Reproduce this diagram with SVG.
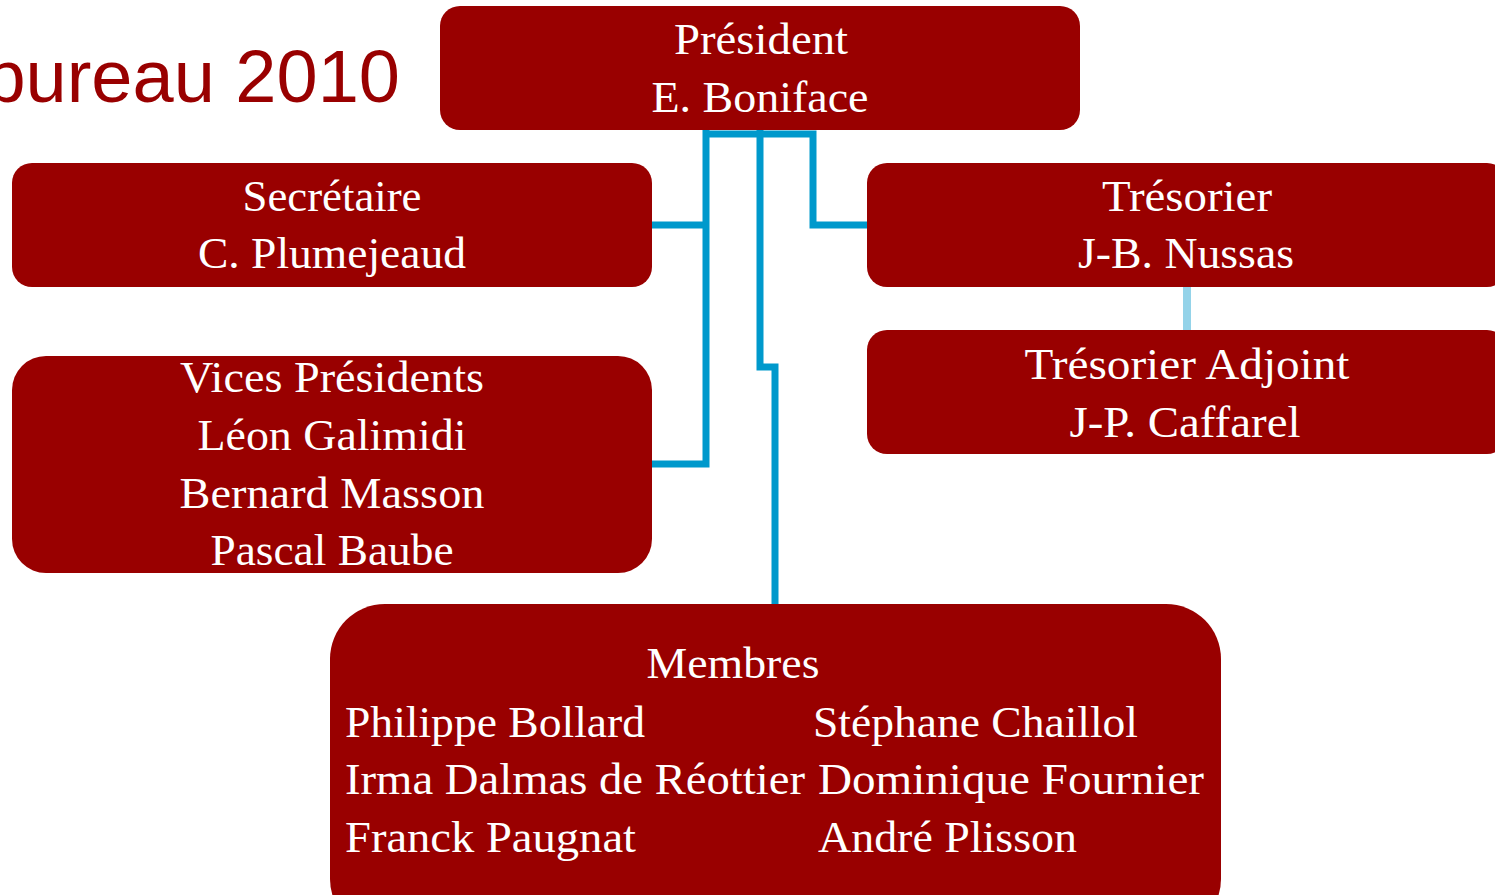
<svg xmlns="http://www.w3.org/2000/svg" width="1495" height="895" viewBox="0 0 1495 895">
<style>
.box{fill:#990000}
.t{font-family:"Liberation Serif","Times New Roman",serif;font-size:45px;fill:#ffffff}
.c{text-anchor:middle}
.conn{fill:none;stroke:#0099CC;stroke-width:7;stroke-linejoin:miter}
.title{font-family:"Liberation Sans",Arial,sans-serif;font-size:74px;fill:#990000;text-anchor:end}
</style>
<rect width="1495" height="895" fill="#ffffff"/>
<text class="title" x="400" y="102">bureau 2010</text>
<g id="connectors">
<path class="conn" d="M706,130 V464 H652"/>
<path class="conn" d="M706,225 H652"/>
<path class="conn" d="M703,134 H813 V225 H867"/>
<path class="conn" d="M760,130 V367 H775 V604"/>
<path d="M1187,287 V330" fill="none" stroke="#94D3E9" stroke-width="8"/>
</g>
<g id="president">
<rect class="box" x="440" y="6" width="640" height="124" rx="20"/>
<text class="t c" x="761" y="54" textLength="174" lengthAdjust="spacingAndGlyphs">Président</text>
<text class="t c" x="760" y="112" textLength="217" lengthAdjust="spacingAndGlyphs">E. Boniface</text>
</g>
<g id="secretaire">
<rect class="box" x="12" y="163" width="640" height="124" rx="20"/>
<text class="t c" x="332" y="211" textLength="179" lengthAdjust="spacingAndGlyphs">Secrétaire</text>
<text class="t c" x="332" y="268" textLength="268" lengthAdjust="spacingAndGlyphs">C. Plumejeaud</text>
</g>
<g id="vices-presidents">
<rect class="box" x="12" y="356" width="640" height="217" rx="34"/>
<text class="t c" x="332" y="392" textLength="304" lengthAdjust="spacingAndGlyphs">Vices Présidents</text>
<text class="t c" x="332" y="450" textLength="269" lengthAdjust="spacingAndGlyphs">Léon Galimidi</text>
<text class="t c" x="332" y="508" textLength="305" lengthAdjust="spacingAndGlyphs">Bernard Masson</text>
<text class="t c" x="332" y="565" textLength="243" lengthAdjust="spacingAndGlyphs">Pascal Baube</text>
</g>
<g id="tresorier">
<rect class="box" x="867" y="163" width="640" height="124" rx="20"/>
<text class="t c" x="1187" y="211" textLength="170" lengthAdjust="spacingAndGlyphs">Trésorier</text>
<text class="t c" x="1186" y="268" textLength="216" lengthAdjust="spacingAndGlyphs">J-B. Nussas</text>
</g>
<g id="tresorier-adjoint">
<rect class="box" x="867" y="330" width="640" height="124" rx="20"/>
<text class="t c" x="1187" y="379" textLength="325" lengthAdjust="spacingAndGlyphs">Trésorier Adjoint</text>
<text class="t c" x="1185" y="437" textLength="231" lengthAdjust="spacingAndGlyphs">J-P. Caffarel</text>
</g>
<g id="membres">
<rect class="box" x="330" y="604" width="891" height="330" rx="55"/>
<text class="t c" x="733" y="678" textLength="173" lengthAdjust="spacingAndGlyphs">Membres</text>
<text class="t" x="345" y="737" textLength="300" lengthAdjust="spacingAndGlyphs">Philippe Bollard</text>
<text class="t" x="813" y="737" textLength="325" lengthAdjust="spacingAndGlyphs">Stéphane Chaillol</text>
<text class="t" x="345" y="794" textLength="460" lengthAdjust="spacingAndGlyphs">Irma Dalmas de Réottier</text>
<text class="t" x="818" y="794" textLength="386" lengthAdjust="spacingAndGlyphs">Dominique Fournier</text>
<text class="t" x="345" y="852" textLength="291" lengthAdjust="spacingAndGlyphs">Franck Paugnat</text>
<text class="t" x="818" y="852" textLength="259" lengthAdjust="spacingAndGlyphs">André Plisson</text>
</g>
</svg>
